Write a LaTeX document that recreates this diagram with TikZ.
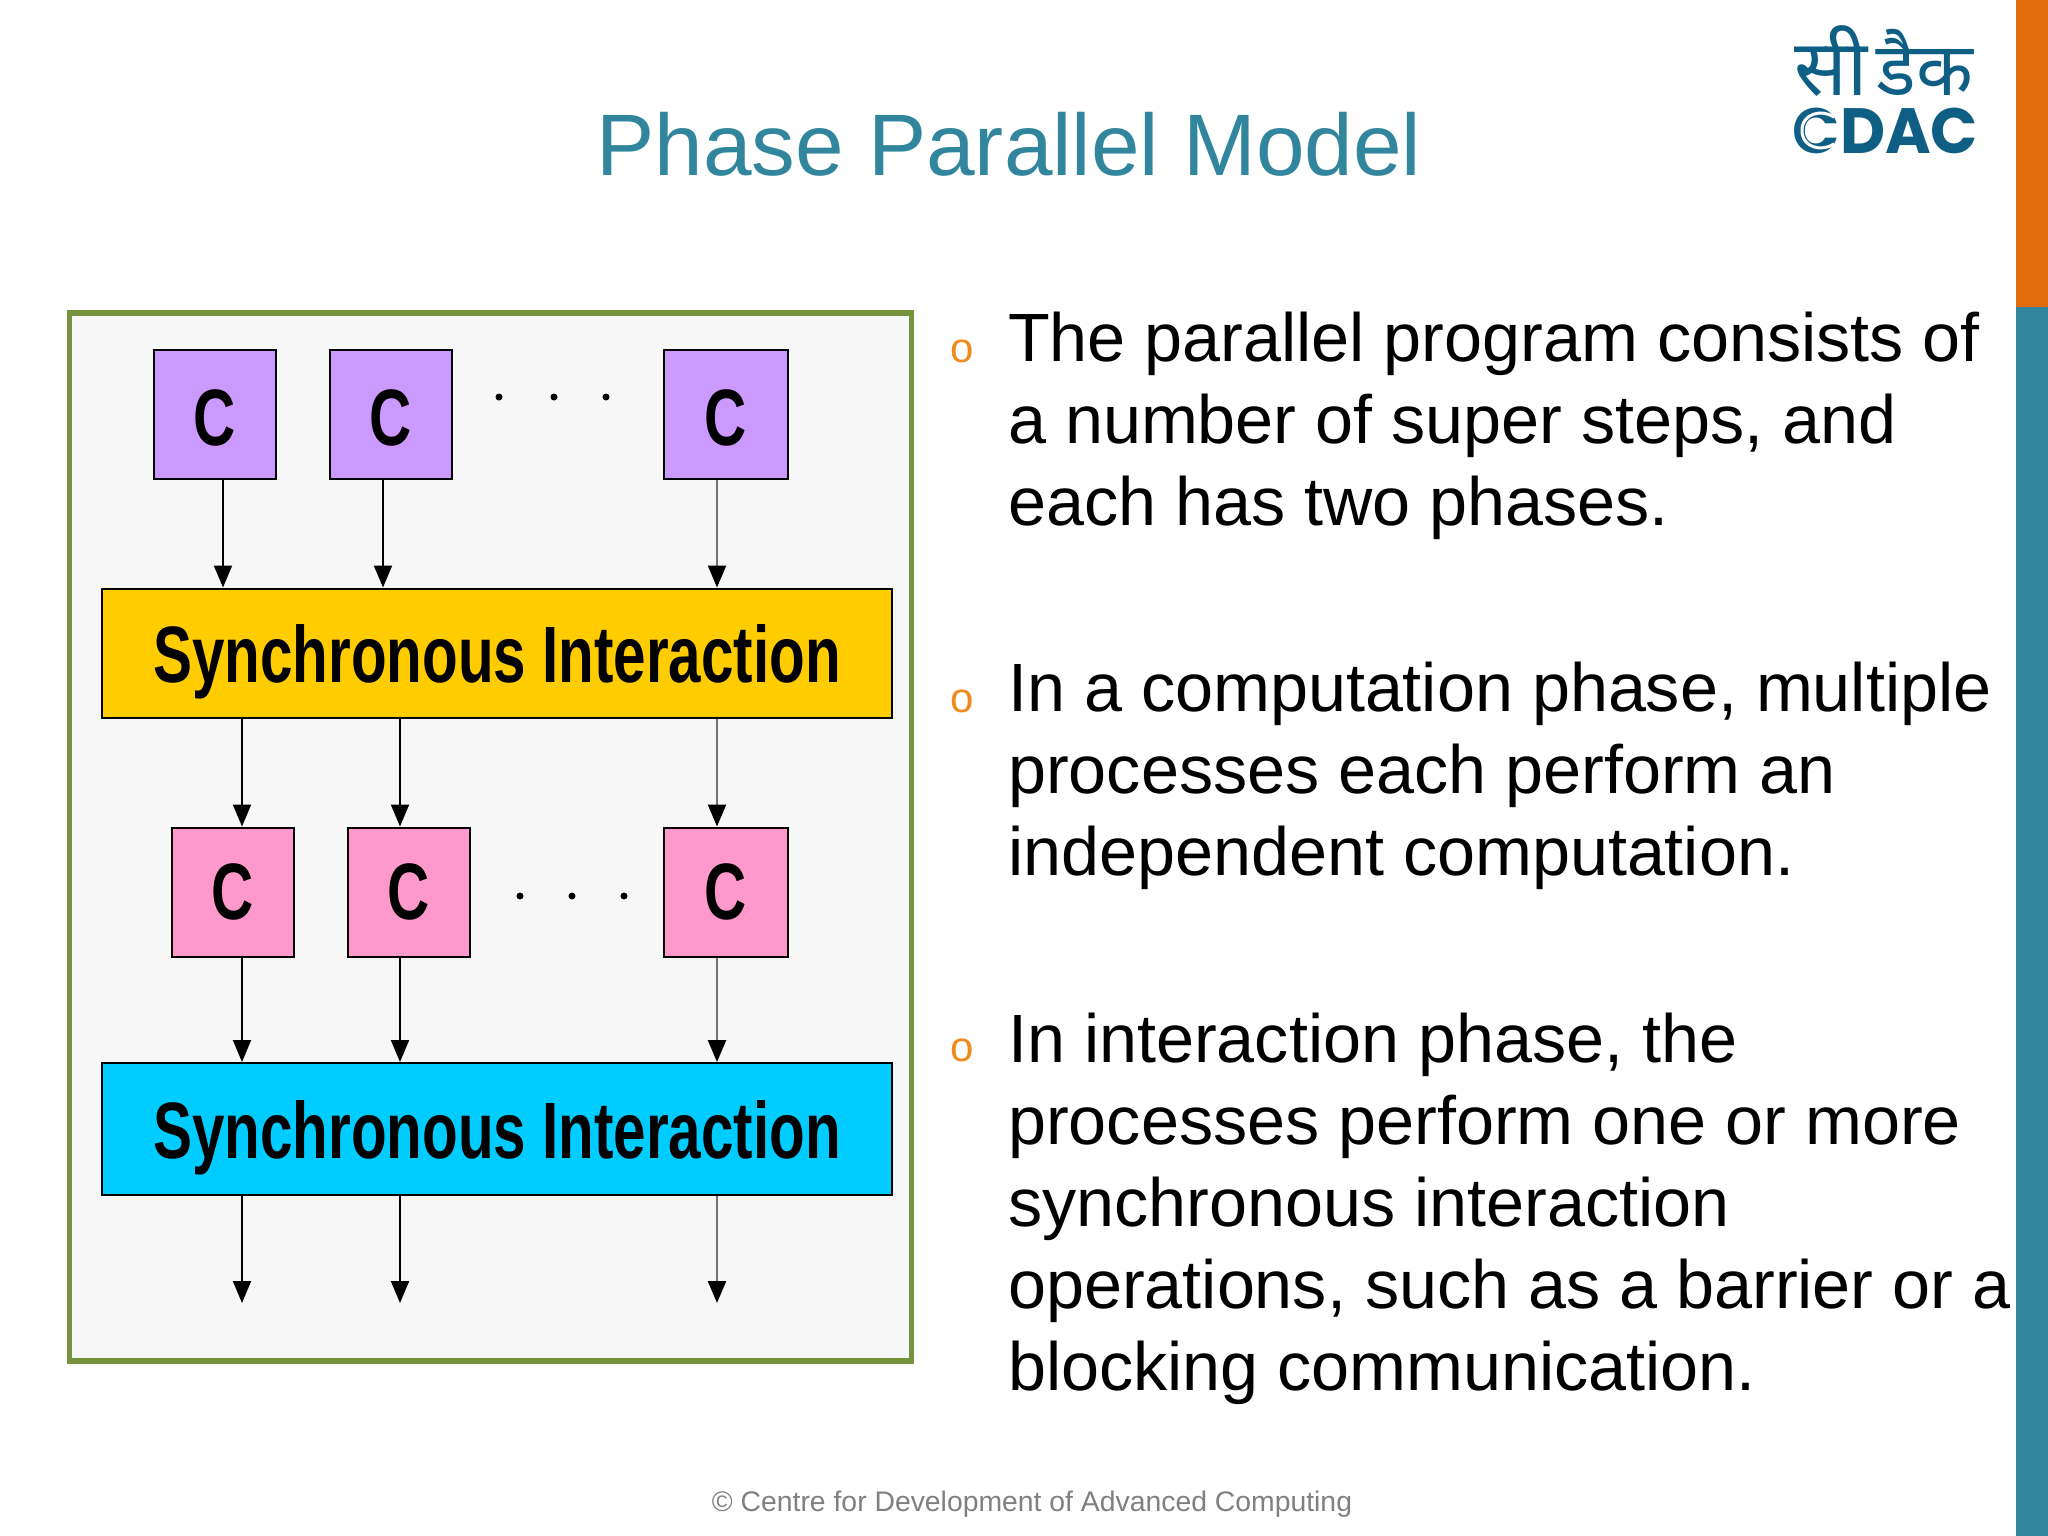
\documentclass[tikz,border=0pt]{standalone}
\usepackage{fontspec}
\setmainfont{Liberation Sans}
\newfontfamily\devfont[Script=Devanagari]{Noto Sans}
\newfontfamily\logofont{Poppins}
\usetikzlibrary{arrows.meta}
\definecolor{titleteal}{HTML}{31859C}
\definecolor{barorange}{HTML}{E36C0A}
\definecolor{bulletorange}{HTML}{F08A1D}
\definecolor{logoblue}{HTML}{0F5F85}
\definecolor{panelgreen}{HTML}{76923C}
\definecolor{panelgray}{HTML}{F7F7F7}
\definecolor{compviolet}{HTML}{CC99FF}
\definecolor{comppink}{HTML}{FF99CC}
\definecolor{syncyellow}{HTML}{FFCC00}
\definecolor{synccyan}{HTML}{00CCFF}
\newcommand{\narrowbold}[1]{\scalebox{.73}[1]{\fontsize{80}{80}\selectfont\bfseries #1}}
\tikzset{
    compbox/.style={draw, line width=2pt, inner sep=0pt, minimum width=122pt, minimum height=129pt},
    syncbar/.style={draw, line width=2pt, inner sep=0pt, minimum width=790pt, minimum height=129pt, text height=70pt, text depth=12pt},
    flow/.style={-{Triangle[length=22pt,width=18pt]}, line width=2pt},
    flowgray/.style={-{Triangle[length=22pt,width=18pt,color=black]}, line width=2.5pt, draw=black!55},
    dotmark/.style={circle, fill=black, inner sep=0pt, minimum size=7pt},
    bodytext/.style={anchor=north west, inner sep=0pt, align=left, font=\fontsize{68.3}{82}\selectfont},
    bulletmark/.style={anchor=base, inner sep=0pt, text=bulletorange, font=\fontsize{42}{42}\selectfont}
}
\begin{document}
\begin{tikzpicture}[x=1pt, y=-1pt]
    \useasboundingbox (0, 0) rectangle (2048, 1536);

    % side strip
    \fill[barorange] (2016, 0) rectangle (2048, 307);
    \fill[titleteal] (2016, 307) rectangle (2048, 1536);

    % logo
    \node[inner sep=0pt, text=logoblue, font=\devfont\fontsize{78}{78}\selectfont] (LS) at (1831, 61) {सी};
    \node[inner sep=0pt, text=logoblue, font=\devfont\bfseries\fontsize{74}{74}\selectfont] (LD) at (1925, 62) {डैक};
    \node[inner sep=0pt, text=logoblue] (LC) at (1885.5, 131) {\scalebox{.97}[1]{\logofont\bfseries\fontsize{64}{64}\selectfont CDAC}};
    \draw[white, line width=3pt] (1834, 117) .. controls (1822, 109) and (1802, 113) .. (1802, 130.5) .. controls (1802, 148) and (1822, 152) .. (1834, 144);

    \node[text=titleteal, inner sep=0pt, font=\fontsize{87.3}{87}\selectfont] (TT) at (1009, 144) {Phase Parallel Model};

    % figure
    \node[draw=panelgreen, fill=panelgray, line width=5.5pt, minimum width=842pt, minimum height=1048pt, inner sep=0pt] (PN) at (490.5, 837) {};

    \node[compbox, fill=compviolet, text height=62pt, text depth=0pt] (C1) at (215, 414) {\narrowbold{C}};
    \node[compbox, fill=compviolet, text height=62pt, text depth=0pt] (C2) at (391, 414) {\narrowbold{C}};
    \node[compbox, fill=compviolet, text height=62pt, text depth=0pt, minimum width=124pt] (C3) at (726, 414) {\narrowbold{C}};
    \node[dotmark] (DA) at (499, 397) {};
    \node[dotmark] (DB) at (554, 397) {};
    \node[dotmark] (DC) at (606, 397) {};

    \node[syncbar, fill=syncyellow] (SY) at (497, 653) {\narrowbold{Synchronous Interaction}};

    \node[compbox, fill=comppink] (P1) at (232.5, 892) {\narrowbold{C}};
    \node[compbox, fill=comppink] (P2) at (408.5, 892) {\narrowbold{C}};
    \node[compbox, fill=comppink, minimum width=124pt] (P3) at (726, 892) {\narrowbold{C}};
    \node[dotmark] (DD) at (520, 896) {};
    \node[dotmark] (DE) at (572, 896) {};
    \node[dotmark] (DF) at (624, 896) {};

    \node[syncbar, fill=synccyan, minimum height=132pt] (SC) at (497, 1129) {\narrowbold{Synchronous Interaction}};

    \coordinate (E1) at (242, 1303);
    \coordinate (E2) at (400, 1303);
    \coordinate (E3) at (717, 1303);

    \draw[flow] ([xshift=8pt]C1.south) -- ([xshift=8pt]C1.south |- SY.north);
    \draw[flow] ([xshift=-8pt]C2.south) -- ([xshift=-8pt]C2.south |- SY.north);
    \draw[flowgray] ([xshift=-9pt]C3.south) -- ([xshift=-9pt]C3.south |- SY.north);
    \draw[flow] (P1.north |- SY.south) ++(9.5pt, 0) -- ([xshift=9.5pt]P1.north);
    \draw[flow] (P2.north |- SY.south) ++(-8.5pt, 0) -- ([xshift=-8.5pt]P2.north);
    \draw[flowgray] ([xshift=-9pt]P3.north |- SY.south) -- ([xshift=-9pt]P3.north);
    \draw[flow] ([xshift=9.5pt]P1.south) -- ([xshift=9.5pt]P1.south |- SC.north);
    \draw[flow] ([xshift=-8.5pt]P2.south) -- ([xshift=-8.5pt]P2.south |- SC.north);
    \draw[flowgray] ([xshift=-9pt]P3.south) -- ([xshift=-9pt]P3.south |- SC.north);
    \draw[flow] (E1 |- SC.south) -- (E1);
    \draw[flow] (E2 |- SC.south) -- (E2);
    \draw[flowgray] (E3 |- SC.south) -- (E3);

    % text on the right
    \node[bulletmark] (B1) at (962, 362) {o};
    \node[bodytext] (T1) at (1008, 312) {The parallel program consists of\\a number of super steps, and\\each has two phases.};
    \node[bulletmark] (B2) at (962, 712) {o};
    \node[bodytext] (T2) at (1008, 662) {In a computation phase, multiple\\processes each perform an\\independent computation.};
    \node[bulletmark] (B3) at (962, 1061) {o};
    \node[bodytext] (T3) at (1008, 1013) {In interaction phase, the\\processes perform one or more\\synchronous interaction\\operations, such as a barrier or a\\blocking communication.};

    \node[text=gray, inner sep=0pt, font=\fontsize{28.35}{28}\selectfont] (FT) at (1032, 1504.5) {© Centre for Development of Advanced Computing};
\end{tikzpicture}
\end{document}
